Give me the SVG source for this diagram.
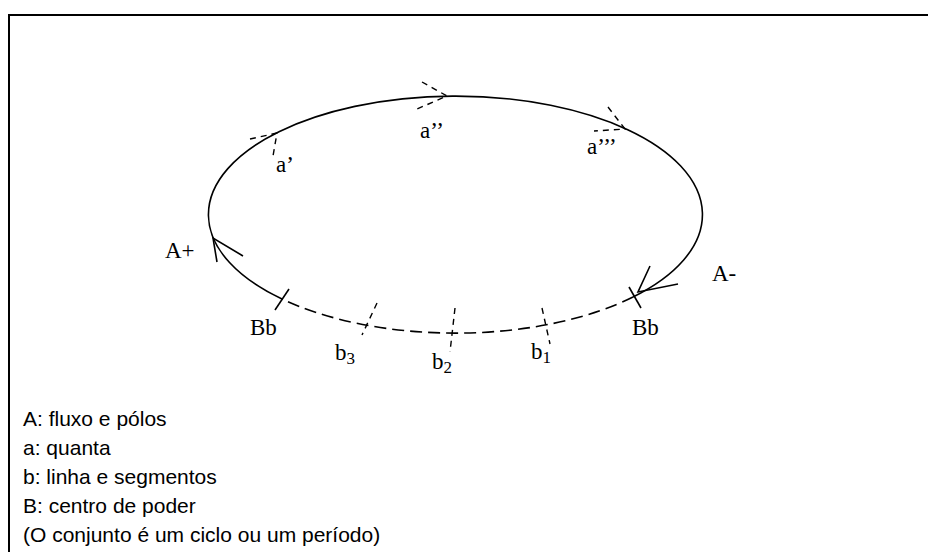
<svg xmlns="http://www.w3.org/2000/svg" width="928" height="552" viewBox="0 0 928 552">
<style>
.ln{fill:none;stroke:#000;stroke-width:1.6}
.ds{fill:none;stroke:#000;stroke-width:1.6;stroke-dasharray:12 6}
.dm{fill:none;stroke:#000;stroke-width:1.4;stroke-dasharray:6 5}
.lb{font-family:"Liberation Serif","Times New Roman",serif;font-size:23px;fill:#000}
.tx{font-family:"Liberation Sans",Arial,sans-serif;font-size:21px;fill:#000}
</style>
<rect width="928" height="552" fill="#fff"/>
<path d="M9,552 V15 H928" fill="none" stroke="#000" stroke-width="2"/>
<g id="connectors">
<path id="flow" class="ln" d="M282,299 A247,118.5 0 1 1 633,297"/>
<path id="line-b" class="ds" d="M633,297 A247,118.5 0 0 1 282,299"/>
<path class="ln" d="M217,262 L213,238 L243,256"/>
<path class="ln" d="M650,266 L638,292 L678,284"/>
</g>
<g id="node-Bb-left"><path class="ln" d="M275,310 L289,289"/><text class="lb" x="250" y="335">Bb</text></g>
<g id="node-Bb-right"><path class="ln" d="M629,287 L641,308"/><text class="lb" x="632" y="335">Bb</text></g>
<g id="node-Aplus"><text class="lb" x="165" y="258">A+</text></g>
<g id="node-Aminus"><text class="lb" x="712" y="281">A-</text></g>
<g id="node-a1"><path class="dm" d="M250,139 L277,133 L273,156"/><text class="lb" x="276" y="172">a’</text></g>
<g id="node-a2"><path class="dm" d="M422,82 L447,96 L417,109"/><text class="lb" x="420" y="138">a’’</text></g>
<g id="node-a3"><path class="dm" d="M608,107 L625,129 L594,131"/><text class="lb" x="587" y="154">a’’’</text></g>
<g id="node-b3"><path class="dm" d="M377,303 L362,335"/><text class="lb" x="335" y="360">b<tspan font-size="17" dy="4">3</tspan></text></g>
<g id="node-b2"><path class="dm" d="M455,308 L450,352"/><text class="lb" x="432" y="369">b<tspan font-size="17" dy="4">2</tspan></text></g>
<g id="node-b1"><path class="dm" d="M542,308 L550,344"/><text class="lb" x="531" y="359">b<tspan font-size="17" dy="4">1</tspan></text></g>
<g id="legend">
<text class="tx" x="23" y="426">A: fluxo e pólos</text>
<text class="tx" x="23" y="455">a: quanta</text>
<text class="tx" x="23" y="484">b: linha e segmentos</text>
<text class="tx" x="23" y="513">B: centro de poder</text>
<text class="tx" x="23" y="542">(O conjunto é um ciclo ou um período)</text>
</g>
</svg>
